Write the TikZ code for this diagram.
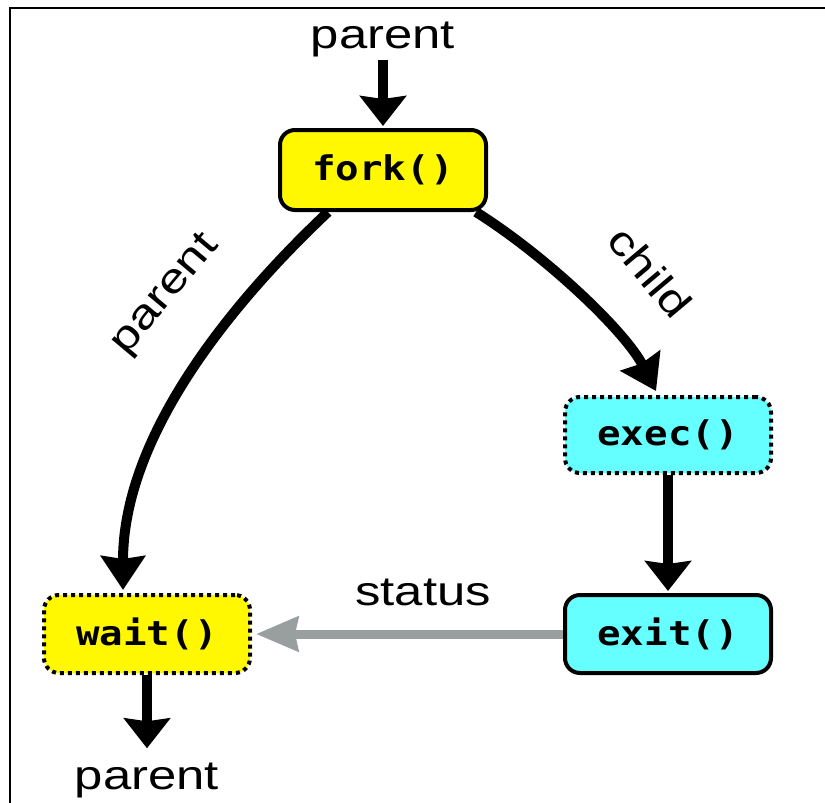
\documentclass[tikz,border=0pt]{standalone}
\usepackage{fontspec}
\setmainfont{Liberation Sans}
\newfontfamily\codefont{DejaVu Sans Mono}
\usetikzlibrary{arrows.meta,calc}
\definecolor{yel}{RGB}{255,248,0}
\definecolor{cya}{RGB}{102,255,255}
\definecolor{gry}{RGB}{153,158,158}
\newcommand\mylbl[1]{\scalebox{1.24}[1]{\fontsize{41}{41}\selectfont #1}}
\newcommand\mycode[1]{\scalebox{1.15}[1]{\codefont\bfseries\fontsize{34}{34}\selectfont #1}}
\tikzset{
  box/.style={draw=black, line width=4pt, rounded corners=15pt,
    minimum width=206pt, inner sep=0pt},
  solidbox/.style={box},
  dotbox/.style={box, dash pattern=on 4pt off 4pt},
  lbl/.style={inner sep=3pt},
  arr/.style={draw=black, line width=10pt,
    -{Stealth[length=30pt, width=46pt, inset=3pt]}},
  carr/.style={draw=black, line width=10pt,
    -{Stealth[length=34pt, width=44pt, inset=3pt]}},
  grayarr/.style={draw=gry, line width=9pt,
    -{Stealth[length=42pt, width=34pt, inset=3pt]}},
}
\begin{document}
\begin{tikzpicture}[x=1pt, y=-1pt]
\useasboundingbox (0,0) rectangle (825,803);
\draw[line width=2.5pt] (10,803) -- (10,8) -- (825,8);

\node[solidbox, fill=yel, minimum height=80pt] (fork) at (383,170) {\mycode{fork()}};
\node[dotbox, fill=cya, minimum height=76pt] (exec) at (668,435) {\mycode{exec()}};
\node[solidbox, fill=cya, minimum height=78pt] (exit) at (668,634) {\mycode{exit()}};
\node[dotbox, fill=yel, minimum height=78pt] (wait) at (147,634) {\mycode{wait()}};

\node[lbl, anchor=base] (ptop) at (383,48) {\mylbl{parent}};
\node[lbl, anchor=base] (pbot) at (147,789) {\mylbl{parent}};
\node[lbl, anchor=base] (status) at (423,605) {\mylbl{status}};
\node[lbl, rotate=50] (pleft) at (166,295) {\mylbl{parent}};
\node[lbl, rotate=-50] (child) at (650,272) {\mylbl{child}};

\draw[arr, shorten >=2pt] (ptop.south) -- (fork.north);
\draw[arr, shorten >=2pt] (exec.south) -- (exit.north);
\draw[grayarr, shorten >=4pt] (exit.west) -- (wait.east);
\draw[arr, shorten >=11pt] (wait.south) -- (pbot.north);
\draw[carr] ($(fork.south)+(-55,0)$) .. controls +(-104,98) and +(0,-150) .. ($(wait.north)+(-24,-3)$);
\draw[carr] ($(fork.south east)+(-12,0)$) .. controls +(70,44) and +(-31,-60) .. ($(exec.north)+(-12,-4)$);
\end{tikzpicture}
\end{document}
